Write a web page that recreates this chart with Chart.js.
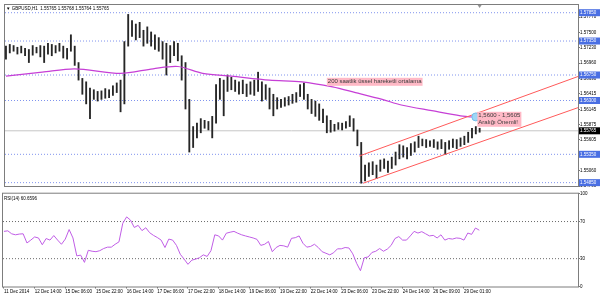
<!DOCTYPE html>
<html>
<head>
<meta charset="utf-8">
<script src="https://cdn.jsdelivr.net/npm/chart.js@4.4.1/dist/chart.umd.min.js"></script>
<style>
  html, body { margin: 0; padding: 0; background: #fff; }
  #wrap { position: relative; width: 600px; height: 297px; overflow: hidden; }
  canvas { position: absolute; left: 0; }
  #priceChart { top: 0; }
  #rsiChart { top: 191px; }
</style>
</head>
<body>
<div id="wrap">
  <canvas id="priceChart" width="600" height="192"></canvas>
  <canvas id="rsiChart" width="600" height="106"></canvas>
</div>
<script>
// GBPUSD H1 - one entry per two hourly bars (bar index = 2 * i)
const barHigh = [
  1.5726, 1.5729, 1.5727, 1.5724, 1.5726, 1.5722, 1.5720, 1.5727, 1.5724, 1.5727,
  1.5726, 1.5731, 1.5729, 1.5727, 1.5731, 1.5726, 1.5722, 1.5746, 1.5726, 1.5697,
  1.5669, 1.5663, 1.5652, 1.5649, 1.5646, 1.5647, 1.5651, 1.5649, 1.5656, 1.5661,
  1.5666, 1.5734, 1.5782, 1.5771, 1.5765, 1.5768, 1.5754, 1.5760, 1.5751, 1.5746,
  1.5741, 1.5734, 1.5731, 1.5727, 1.5734, 1.5731, 1.5709, 1.5697, 1.5632, 1.5584,
  1.5590, 1.5598, 1.5595, 1.5593, 1.5602, 1.5658, 1.5669, 1.5666, 1.5675, 1.5671,
  1.5666, 1.5663, 1.5666, 1.5659, 1.5663, 1.5666, 1.5680, 1.5663, 1.5658, 1.5652,
  1.5641, 1.5635, 1.5632, 1.5635, 1.5637, 1.5641, 1.5644, 1.5658, 1.5661, 1.5641,
  1.5632, 1.5629, 1.5624, 1.5615, 1.5603, 1.5595, 1.5588, 1.5591, 1.5590, 1.5593,
  1.5603, 1.5598, 1.5578, 1.5556, 1.5516, 1.5520, 1.5522, 1.5516, 1.5525, 1.5527,
  1.5523, 1.5530, 1.5539, 1.5552, 1.5550, 1.5547, 1.5554, 1.5557, 1.5567, 1.5562,
  1.5561, 1.5559, 1.5561, 1.5557, 1.5561, 1.5556, 1.5559, 1.5562, 1.5561, 1.5564,
  1.5567, 1.5574, 1.5581, 1.5584, 1.5581
];
const barLow = [
  1.5703, 1.5714, 1.5717, 1.5712, 1.5714, 1.5709, 1.5697, 1.5710, 1.5714, 1.5707,
  1.5697, 1.5712, 1.5709, 1.5714, 1.5717, 1.5705, 1.5703, 1.5717, 1.5692, 1.5666,
  1.5641, 1.5624, 1.5598, 1.5632, 1.5629, 1.5632, 1.5634, 1.5635, 1.5639, 1.5644,
  1.5610, 1.5624, 1.5726, 1.5743, 1.5737, 1.5741, 1.5726, 1.5731, 1.5726, 1.5720,
  1.5717, 1.5703, 1.5675, 1.5697, 1.5709, 1.5700, 1.5666, 1.5615, 1.5539, 1.5547,
  1.5564, 1.5573, 1.5581, 1.5578, 1.5564, 1.5590, 1.5632, 1.5603, 1.5646, 1.5649,
  1.5646, 1.5641, 1.5642, 1.5637, 1.5641, 1.5639, 1.5646, 1.5629, 1.5632, 1.5615,
  1.5603, 1.5615, 1.5618, 1.5620, 1.5622, 1.5625, 1.5627, 1.5637, 1.5632, 1.5615,
  1.5607, 1.5602, 1.5595, 1.5591, 1.5573, 1.5574, 1.5576, 1.5579, 1.5578, 1.5581,
  1.5584, 1.5576, 1.5550, 1.5484, 1.5488, 1.5496, 1.5499, 1.5492, 1.5505, 1.5510,
  1.5503, 1.5510, 1.5516, 1.5527, 1.5530, 1.5527, 1.5533, 1.5539, 1.5547, 1.5550,
  1.5547, 1.5549, 1.5547, 1.5544, 1.5545, 1.5535, 1.5544, 1.5547, 1.5545, 1.5549,
  1.5552, 1.5556, 1.5564, 1.5571, 1.5574
];
const rsiValues = [
  59.4, 60.0, 56.8, 55.7, 56.5, 56.8, 46.9, 50.0, 53.4, 52.3,
  45.0, 51.7, 50.0, 54.9, 50.0, 45.5, 51.1, 61.4, 52.3, 33.0,
  33.8, 26.0, 39.0, 38.0, 37.5, 38.6, 40.9, 42.4, 42.4, 45.5,
  48.1, 68.2, 75.0, 71.6, 63.6, 65.9, 60.2, 63.3, 58.0, 55.1,
  52.8, 50.0, 42.0, 51.1, 50.0, 44.3, 34.7, 29.5, 23.9, 28.4,
  29.5, 31.0, 34.1, 32.4, 38.6, 55.7, 54.5, 50.0, 57.4, 58.5,
  59.4, 57.4, 55.7, 54.5, 53.4, 52.3, 50.8, 44.3, 45.5, 48.5,
  37.5, 42.0, 44.3, 43.8, 42.4, 51.9, 52.6, 54.5, 46.6, 42.4,
  43.2, 45.5, 42.0, 37.5, 35.8, 34.1, 36.4, 40.6, 40.6, 42.0,
  41.5, 35.2, 25.0, 17.0, 31.0, 31.8, 36.7, 38.0, 40.9, 38.0,
  40.3, 44.3, 51.7, 53.8, 50.0, 50.0, 54.5, 59.4, 57.6, 59.1,
  56.8, 54.5, 55.1, 52.3, 55.7, 50.0, 51.7, 51.1, 52.3, 51.9,
  50.0, 57.6, 56.2, 63.0, 60.66
];

// 200 period EMA, read at a few bar indexes
const maIndex = [0, 19, 36, 60, 77, 90, 103, 118, 138, 155, 171, 183, 197, 207, 223, 238, 248];
const maValues = [1.5673, 1.5680, 1.5686, 1.5678, 1.5686, 1.5690, 1.5678, 1.5673, 1.5666,
                  1.5663, 1.5654, 1.5644, 1.5632, 1.5622, 1.5612, 1.5603, 1.5600];

// rising channel
const upperIdx = [185, 300];
const upperVal = [1.5532, 1.5673];
const lowerIdx = [187, 300];
const lowerVal = [1.5484, 1.5618];

const levelLines = [1.57850, 1.57350, 1.56750, 1.56300, 1.55350, 1.54850];
const lastPrice = 1.55765;
const priceTicks = [1.57770, 1.57500, 1.57230, 1.56960, 1.56690, 1.56415, 1.56145,
                    1.55875, 1.55605, 1.55330, 1.55060, 1.54790];
const priceMin = 1.54773;
const priceMax = 1.57986;

const rsiTicks = [0, 30, 70, 100];
const rsiLevels = [30, 70];
const rsiTitle = 'RSI(14) 60.6596';
const headerText = '\u25BC GBPUSD,H1  1.55765 1.55768 1.55764 1.55765';

const timeLabels = ['11 Dec 2014', '12 Dec 14:00', '15 Dec 06:00', '15 Dec 22:00', '16 Dec 14:00',
  '17 Dec 06:00', '17 Dec 22:00', '18 Dec 14:00', '19 Dec 06:00', '19 Dec 22:00', '22 Dec 14:00',
  '23 Dec 06:00', '23 Dec 22:00', '24 Dec 14:00', '26 Dec 09:00', '29 Dec 01:00'];
const timeLabelIndex = [0, 16, 32, 48, 64, 80, 96, 112, 128, 144, 160, 176, 192, 208, 224, 240];

const noteText = [['200 saatlik üssel hareketli ortalama'], ['1,5600 - 1,5605', 'Aralığı Önemli!']];
const noteIdx = [168, 246.8];
const notePrice = [1.5663, 1.5603];
const markIdx = 246;
const markPrice = 1.5601;

const xMin = -0.5;
const xMax = 299.5;
const family = '"Liberation Sans", "DejaVu Sans", sans-serif';
Chart.defaults.font.family = family;

function hline(v, color, dash, order) {
  return {
    type: 'line',
    data: [{ x: xMin, y: v }, { x: xMax, y: v }],
    borderColor: color,
    borderWidth: 1,
    borderDash: dash,
    pointRadius: 0,
    order: order
  };
}

const priceDecor = {
  id: 'priceDecor',
  afterDatasetsDraw(chart) {
    const { ctx, scales: { x, y } } = chart;
    ctx.save();
    ctx.font = '6px ' + family;
    ctx.textBaseline = 'middle';
    noteText.forEach((lines, k) => {
      const px = x.getPixelForValue(noteIdx[k]);
      const py = y.getPixelForValue(notePrice[k]);
      const w = Math.max(...lines.map(t => ctx.measureText(t).width)) + 2;
      ctx.fillStyle = '#ffb9c6';
      ctx.fillRect(px, py - 4, w, lines.length * 7 + 1);
      ctx.fillStyle = '#3a3a3a';
      lines.forEach((t, j) => ctx.fillText(t, px + 1, py + j * 7));
    });
    ctx.restore();
  },
  afterDraw(chart) {
    const { ctx, chartArea: a, scales: { x, y } } = chart;
    ctx.save();
    ctx.strokeStyle = '#7d7d7d';
    ctx.lineWidth = 1;
    ctx.strokeRect(a.left - 0.5, a.top - 0.5, a.right - a.left + 1, a.bottom - a.top);

    ctx.font = '4.5px ' + family;
    ctx.textBaseline = 'middle';
    ctx.fillStyle = '#000';
    ctx.fillText(headerText, a.left + 1, a.top + 3.5);

    // chart shift marker
    const sx = x.getPixelForValue(markIdx + 2);
    ctx.fillStyle = '#909090';
    ctx.beginPath();
    ctx.moveTo(sx - 2, a.top);
    ctx.lineTo(sx + 2, a.top);
    ctx.lineTo(sx, a.top + 3);
    ctx.fill();

    const tag = (v, bg) => {
      const py = y.getPixelForValue(v);
      ctx.fillStyle = bg;
      ctx.fillRect(a.right + 1, py - 3.5, 21, 7);
      ctx.fillStyle = '#fff';
      ctx.fillText(v.toFixed(5), a.right + 2, py);
    };
    levelLines.forEach(v => tag(v, '#4a6fe3'));
    tag(lastPrice, '#000');
    ctx.restore();
  }
};

new Chart(document.getElementById('priceChart'), {
  type: 'bar',
  data: {
    datasets: [
      ...levelLines.map(v => hline(v, '#8094ee', [1, 2], 10)),
      hline(lastPrice, '#c6c6c6', [], 9),
      {
        type: 'bar',
        data: barHigh.map((h, i) => ({ x: i * 2, y: [barLow[i], h] })),
        backgroundColor: '#262626',
        barThickness: 1.2,
        order: 5
      },
      {
        type: 'line',
        data: maIndex.map((v, i) => ({ x: v, y: maValues[i] })),
        borderColor: '#c63fd6',
        borderWidth: 1.2,
        tension: 0.3,
        pointRadius: 0,
        order: 3
      },
      {
        type: 'line',
        data: upperIdx.map((v, i) => ({ x: v, y: upperVal[i] })),
        borderColor: '#ff5a5a',
        borderWidth: 1,
        pointRadius: 0,
        order: 2
      },
      {
        type: 'line',
        data: lowerIdx.map((v, i) => ({ x: v, y: lowerVal[i] })),
        borderColor: '#ff5a5a',
        borderWidth: 1,
        pointRadius: 0,
        order: 2
      },
      {
        type: 'line',
        data: [{ x: markIdx, y: markPrice }],
        showLine: false,
        pointRadius: 4,
        pointBackgroundColor: '#9ed6f6',
        pointBorderColor: '#72bdea',
        pointBorderWidth: 1,
        order: 1
      }
    ]
  },
  options: {
    responsive: false,
    animation: false,
    events: [],
    layout: { padding: { left: 3, top: 2, right: 0, bottom: 1 } },
    plugins: { legend: { display: false }, tooltip: { enabled: false } },
    scales: {
      x: { type: 'linear', display: false, min: xMin, max: xMax, offset: false },
      y: {
        position: 'right',
        min: priceMin,
        max: priceMax,
        afterBuildTicks: ax => { ax.ticks = priceTicks.map(v => ({ value: v })); },
        afterFit: s => { s.width = 22; },
        ticks: {
          padding: 0,
          color: '#000',
          font: { size: 4.5 },
          callback: v => v.toFixed(5)
        },
        grid: { drawOnChartArea: false, tickLength: 2, color: '#777' },
        border: { display: false }
      }
    }
  },
  plugins: [priceDecor]
});

const rsiDecor = {
  id: 'rsiDecor',
  afterDraw(chart) {
    const { ctx, chartArea: a } = chart;
    ctx.save();
    ctx.strokeStyle = '#7d7d7d';
    ctx.lineWidth = 1;
    ctx.strokeRect(a.left - 0.5, a.top - 0.5, a.right - a.left + 1, a.bottom - a.top + 1);
    ctx.font = '4.5px ' + family;
    ctx.textBaseline = 'middle';
    ctx.fillStyle = '#000';
    ctx.fillText(rsiTitle, a.left + 1, a.top + 5.5);
    ctx.restore();
  }
};

new Chart(document.getElementById('rsiChart'), {
  type: 'line',
  data: {
    datasets: [
      {
        data: rsiValues.map((v, i) => ({ x: i * 2, y: v })),
        borderColor: '#c05ee6',
        borderWidth: 1,
        pointRadius: 0,
        order: 1
      },
      ...rsiLevels.map(v => hline(v, '#6a6a6a', [1, 2], 5))
    ]
  },
  options: {
    responsive: false,
    animation: false,
    events: [],
    layout: { padding: { left: 3, top: 1.5, right: 0, bottom: 0 } },
    plugins: { legend: { display: false }, tooltip: { enabled: false } },
    scales: {
      x: {
        type: 'linear',
        min: xMin,
        max: xMax,
        afterBuildTicks: ax => { ax.ticks = timeLabelIndex.map(v => ({ value: v })); },
        afterFit: s => { s.height = 10.5; },
        ticks: {
          autoSkip: false,
          maxRotation: 0,
          align: 'start',
          padding: 1,
          color: '#000',
          font: { size: 4.5 },
          callback: (v, i) => timeLabels[i]
        },
        grid: { drawOnChartArea: false, tickLength: 2, color: '#777' },
        border: { display: false }
      },
      y: {
        position: 'right',
        min: 0,
        max: 100,
        afterBuildTicks: ax => { ax.ticks = rsiTicks.map(v => ({ value: v })); },
        afterFit: s => { s.width = 22; },
        ticks: { padding: 0, color: '#000', font: { size: 4.5 } },
        grid: { drawOnChartArea: false, tickLength: 2, color: '#777' },
        border: { display: false }
      }
    }
  },
  plugins: [rsiDecor]
});
</script>
</body>
</html>
